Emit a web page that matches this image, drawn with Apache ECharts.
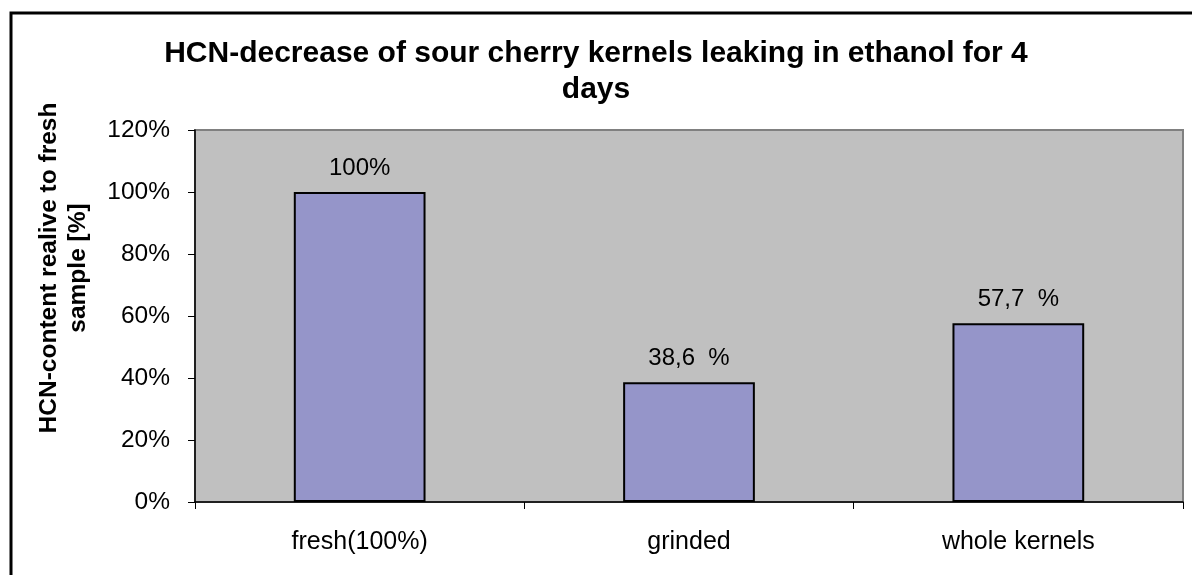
<!DOCTYPE html>
<html>
<head>
<meta charset="utf-8">
<script src="https://cdn.jsdelivr.net/npm/echarts@6/dist/echarts.min.js"></script>
<style>
html, body { margin: 0; padding: 0; background: #fff; }
#chart { width: 1192px; height: 575px; }
</style>
</head>
<body>
<div id="chart"></div>
<script>
const categories = ['fresh(100%)', 'grinded', 'whole kernels'];
const values = [100, 38.6, 57.7];
const valueLabels = ['100%', '38,6  %', '57,7  %'];
const yTicks = { min: 0, max: 120, interval: 20 };

const chart = echarts.init(document.getElementById('chart'));
const font = 'Liberation Sans, Arial, sans-serif';

chart.setOption({
    backgroundColor: '#fff',
    animation: false,
    title: {
        text: 'HCN-decrease of sour cherry kernels leaking in ethanol for 4\ndays',
        left: 'center',
        top: 31,
        textStyle: {
            fontFamily: font,
            fontWeight: 'bold',
            fontSize: 30,
            lineHeight: 36,
            color: '#000'
        }
    },
    grid: {
        left: 195,
        right: 9,
        top: 130,
        bottom: 73,
        show: true,
        backgroundColor: '#c0c0c0',
        borderColor: '#808080',
        borderWidth: 2
    },
    graphic: [
        { // 外框
            type: 'rect',
            shape: { x: 11, y: 13, width: 1300, height: 700 },
            style: { fill: 'none', stroke: '#000', lineWidth: 3 },
            silent: true
        },
        { // 纵轴标题
            type: 'text',
            x: 64,
            y: 268,
            rotation: Math.PI / 2,
            style: {
                text: 'HCN-content realive to fresh\nsample [%]',
                fontFamily: font,
                fontWeight: 'bold',
                fontSize: 24.5,
                lineHeight: 29,
                fill: '#000',
                align: 'center',
                verticalAlign: 'middle'
            }
        }
    ],
    xAxis: {
        type: 'category',
        data: categories,
        axisLine: { lineStyle: { color: '#000', width: 1.5 } },
        axisTick: { show: true, alignWithLabel: false, length: 7, lineStyle: { color: '#000' } },
        axisLabel: { fontFamily: font, fontSize: 25, color: '#000', margin: 28 }
    },
    yAxis: {
        type: 'value',
        min: yTicks.min,
        max: yTicks.max,
        interval: yTicks.interval,
        axisLine: { show: true, lineStyle: { color: '#000', width: 1.5 } },
        axisTick: { show: true, length: 7, lineStyle: { color: '#000' } },
        splitLine: { show: false },
        axisLabel: { fontFamily: font, fontSize: 24.5, color: '#000', margin: 25, formatter: '{value}%' }
    },
    series: [{
        type: 'bar',
        data: values,
        barWidth: '40%',
        itemStyle: { color: '#9595c9', borderColor: '#000', borderWidth: 2 },
        label: {
            show: true,
            position: 'top',
            distance: 12,
            fontFamily: font,
            fontSize: 24,
            color: '#000',
            formatter: p => valueLabels[p.dataIndex]
        }
    }]
});
</script>
</body>
</html>
